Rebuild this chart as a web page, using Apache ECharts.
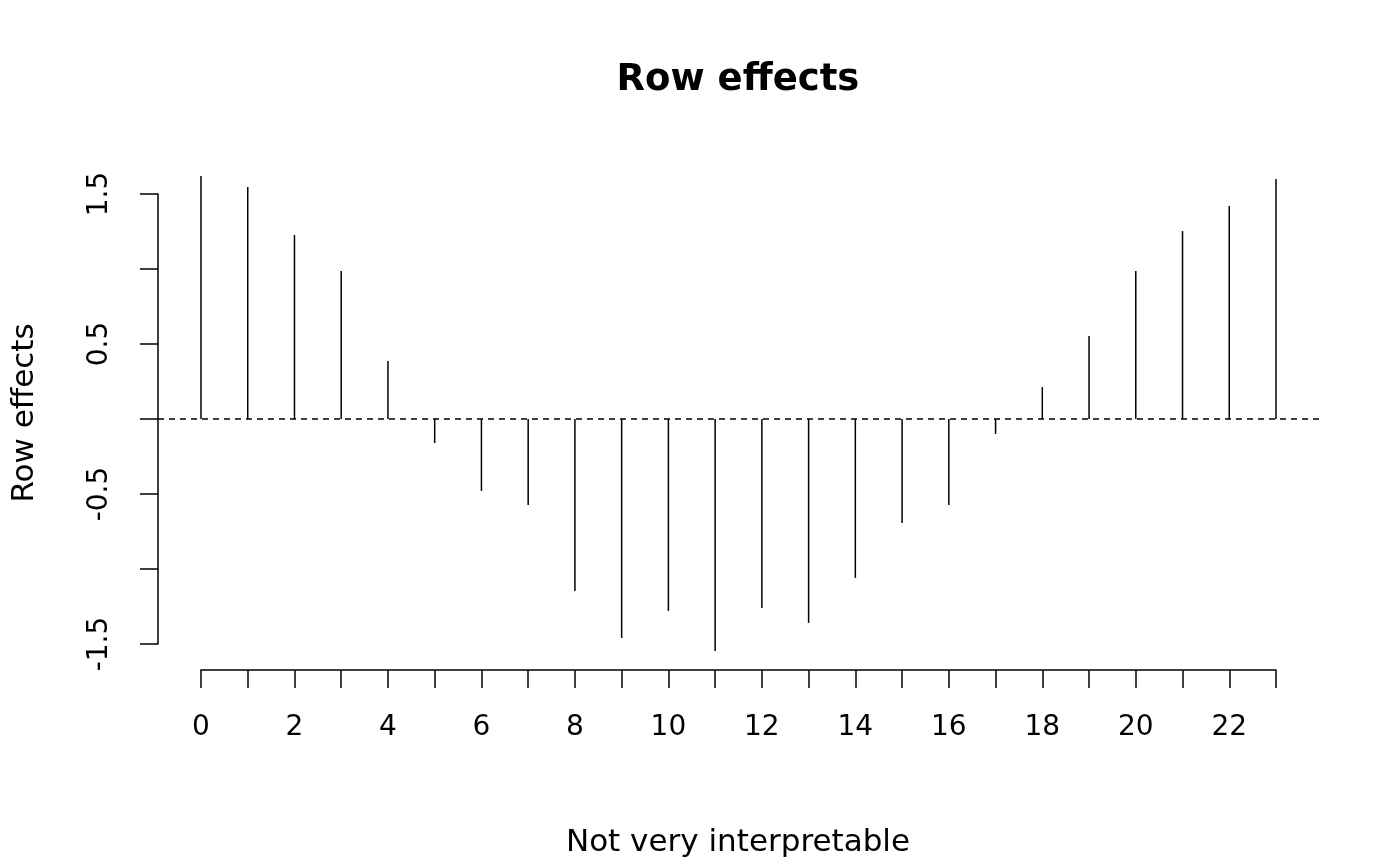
<!DOCTYPE html>
<html><head><meta charset="utf-8">
<script src="https://cdn.jsdelivr.net/npm/echarts@6/dist/echarts.min.js"></script>
<style>html,body{margin:0;padding:0;background:#fff}#c{width:1400px;height:866px}</style>
</head><body><div id="c"></div>
<script>
const xs = [0,1,2,3,4,5,6,7,8,9,10,11,12,13,14,15,16,17,18,19,20,21,22,23];
const values = [1.62,1.547,1.227,0.987,0.387,-0.16,-0.48,-0.573,-1.147,-1.46,-1.28,-1.547,-1.26,-1.36,-1.06,-0.693,-0.573,-0.1,0.213,0.553,0.987,1.253,1.42,1.6];
const yTickLabels = ['-1.5','-0.5','0.5','1.5'];
const F = 'DejaVu Sans';
const chart = echarts.init(document.getElementById('c'));
chart.setOption({
  animation:false,
  backgroundColor:'#fff',
  graphic:[
    {type:'text',x:738,y:80,style:{text:'Row effects',font:'bold 37px "DejaVu Sans"',fill:'#000',align:'center',verticalAlign:'middle'}},
    {type:'text',x:738,y:843,style:{text:'Not very interpretable',font:'31px "DejaVu Sans"',fill:'#000',align:'center',verticalAlign:'middle'}},
    {type:'text',x:25,y:413,rotation:Math.PI/2,style:{text:'Row effects',font:'31px "DejaVu Sans"',fill:'#000',align:'center',verticalAlign:'middle'}}
  ],
  grid:[
    {left:158,right:81,top:157,bottom:196},
    {left:201,right:124,bottom:196,height:0},
    {left:158,right:1241,top:194,bottom:222}
  ],
  xAxis:[
    {gridIndex:0,type:'value',min:-0.92,max:23.92,show:false},
    {gridIndex:1,type:'value',min:0,max:23,interval:1,position:'bottom',
     axisLine:{show:true,lineStyle:{color:'#000',width:1.5}},
     axisTick:{show:true,length:18,lineStyle:{color:'#000',width:1.5}},
     axisLabel:{margin:44,fontFamily:F,fontSize:28,color:'#000',formatter:v=>(v%2===0?String(v):'')},
     splitLine:{show:false}},
    {gridIndex:2,type:'value',show:false,min:0,max:1}
  ],
  yAxis:[
    {gridIndex:0,type:'value',min:-1.674,max:1.747,show:false},
    {gridIndex:1,type:'value',show:false},
    {gridIndex:2,type:'value',min:-1.5,max:1.5,interval:0.5,position:'left',
     axisLine:{show:true,lineStyle:{color:'#000',width:1.5}},
     axisTick:{show:true,length:18,lineStyle:{color:'#000',width:1.5}},
     axisLabel:{margin:44,rotate:90,fontFamily:F,fontSize:28,color:'#000',
       formatter:v=>{const s=(Math.round(v*10)/10).toFixed(1);return yTickLabels.includes(s)?s:'';}},
     splitLine:{show:false}}
  ],
  series:[{
    type:'custom',xAxisIndex:0,yAxisIndex:0,
    data:xs.map((x,i)=>[x,values[i]]),
    renderItem:(p,api)=>{
      const a=api.coord([api.value(0),0]),b=api.coord([api.value(0),api.value(1)]);
      return {type:'line',shape:{x1:a[0],y1:a[1],x2:b[0],y2:b[1]},style:{stroke:'#000',lineWidth:1.5}};
    },
    markLine:{silent:true,symbol:'none',label:{show:false},
      lineStyle:{color:'#000',type:[6,5],width:1.5},data:[{yAxis:0}]}
  }]
});
</script></body></html>
